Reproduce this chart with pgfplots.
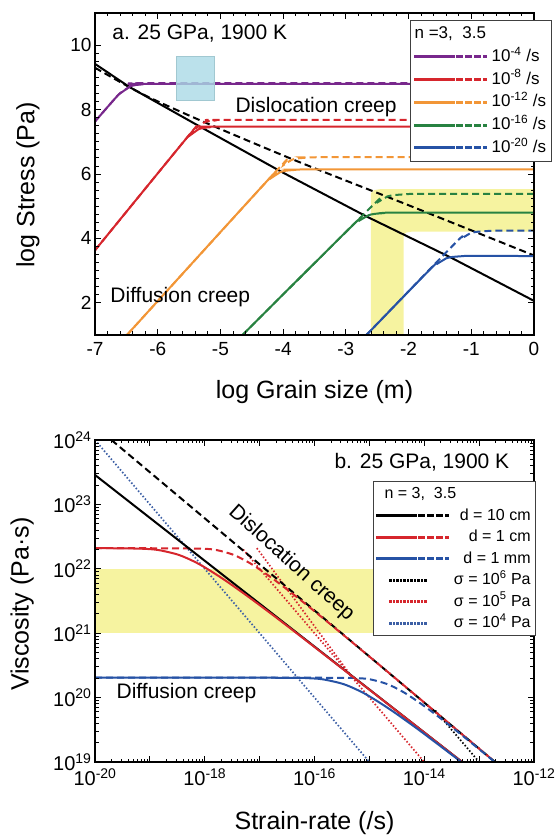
\documentclass[border=0pt]{standalone}
\usepackage{pgfplots}
\pgfplotsset{compat=1.18}
\usepackage{fontspec}
\setmainfont{Liberation Sans}
\definecolor{cpurple}{RGB}{120,40,140}
\definecolor{cred}{RGB}{214,38,45}
\definecolor{corange}{RGB}{242,150,55}
\definecolor{cgreen}{RGB}{40,130,65}
\definecolor{cblue}{RGB}{38,82,165}
\definecolor{cdotblue}{RGB}{60,95,165}
\definecolor{cyel}{RGB}{246,243,160}
\definecolor{ccyan}{RGB}{170,218,230}
\def\mxl{-30}
\foreach \n in {-20,...,-13}{\foreach \k in {0.30103,0.47712,0.60206,0.69897,0.77815,0.8451,0.90309,0.95424}{\pgfmathparse{\n+\k}\xdef\mxl{\mxl,\pgfmathresult}}}
\def\myl{10}
\foreach \n in {19,...,23}{\foreach \k in {0.30103,0.47712,0.60206,0.69897,0.77815,0.8451,0.90309,0.95424}{\pgfmathparse{\n+\k}\xdef\myl{\myl,\pgfmathresult}}}
\pgfplotsset{
  common/.style={scale only axis, width=439pt, height=322pt,
    tick align=inside, xtick pos=both, ytick pos=both,
    major tick length=6pt, minor tick length=3.5pt,
    every tick/.style={black, line width=0.8pt},
    axis line style={line width=1.1pt},
    axis on top, clip=true,
    label style={font=\fontsize{25}{25}\selectfont},
  },
  sol/.style={line width=2pt},
  das/.style={line width=2pt, dash pattern=on 7pt off 4pt},
  dot/.style={line width=1.7pt, dash pattern=on 1.5pt off 2pt},
}
\newcommand{\ann}{\fontsize{21}{25}\selectfont}
% legend samples drawn as filled bars (solid part, then dashes)
\newcommand{\sdimg}[1]{\addlegendimage{legend image code/.code={%
  \fill[#1] (0pt,-1pt) rectangle (40pt,1pt);
  \fill[#1] (42pt,-1pt) rectangle (48pt,1pt);
  \fill[#1] (51pt,-1pt) rectangle (57pt,1pt);
  \fill[#1] (60pt,-1pt) rectangle (66pt,1pt);
  \fill[#1] (69pt,-1pt) rectangle (72pt,1pt);}}}
\newcommand{\dotimg}[1]{\addlegendimage{legend image code/.code={%
  \foreach \a in {13,16.5,20,23.5,27,30.5,34,37.5,41,44.5,48}{\fill[#1] (\a pt,-1pt) rectangle ++(1.7pt,2pt);}}}}
\begin{document}
\begin{tikzpicture}
\useasboundingbox (0,0) rectangle (557pt,837pt);
% ---------------- top panel ----------------
\begin{axis}[common, at={(95pt,502pt)}, anchor=south west,
  xmin=-7, xmax=0, ymin=1, ymax=11,
  xtick={-7,-6,-5,-4,-3,-2,-1,0}, xticklabels={-7,-6,-5,-4,-3,-2,-1,0},
  ytick={2,4,6,8,10}, yticklabels={2,4,6,8,10},
  minor x tick num=4, minor y tick num=7,
  tick label style={font=\fontsize{19}{19}\selectfont},
  xticklabel style={yshift=-4pt},
  xlabel={log Grain size (m)}, ylabel={log Stress (Pa)},
  xlabel style={at={(axis description cs:0.5,-0.177)}, anchor=center},
  ylabel style={at={(axis description cs:-0.153,0.466)}, anchor=center},
  legend style={at={(axis description cs:1.040,0.978)}, anchor=north east,
    draw=black!75, line width=0.8pt, fill=white, inner xsep=3pt, inner ysep=2pt,
    /tikz/row sep=0.3pt, /tikz/column sep=3pt,
    font=\fontsize{17}{17}\selectfont,
    nodes={inner sep=2pt, text height=14pt, text depth=4.5pt}},
  legend cell align=left,
]
\addplot[fill=cyel, draw=none, forget plot] coordinates {(-2.60,1) (-2.60,5.40) (-2.55,5.50) (-2.45,5.53) (0,5.53) (0,4.21) (-1.95,4.21) (-2.04,4.18) (-2.08,4.10) (-2.08,1)} -- cycle;
% black boundaries
\addplot[black, sol, forget plot] coordinates {(-7,9.42) (-6.45,8.70) (-5.27,7.41) (-4.02,6.06) (-2.68,4.69) (-1.31,3.39) (0,2.06)};
\addplot[black, das, smooth, forget plot] coordinates {(-7,9.30) (-6.23,8.47) (-5.28,7.63) (-3.73,6.36) (-2.0,5.03) (0,3.47)};
% dashed n=3.5
\addplot[cpurple, das, smooth, tension=0.5, forget plot] coordinates {(-7,7.63) (-6.646,8.42) (-6.555,8.57) (-6.481,8.67) (-6.429,8.74) (-6.35,8.78) (-6.22,8.805) (-6.046,8.82) (0,8.82)};
\addplot[cred, das, smooth, tension=0.5, forget plot] coordinates {(-7,3.63) (-5.47,7.28) (-5.384,7.43) (-5.3125,7.53) (-5.2625,7.60) (-5.1875,7.64) (-5.0625,7.665) (-4.896,7.68) (0,7.68)};
\addplot[corange, das, smooth, tension=0.5, forget plot] coordinates {(-6.491,1.0) (-4.097,6.12) (-3.999,6.27) (-3.92,6.37) (-3.864,6.44) (-3.78,6.48) (-3.641,6.505) (-3.455,6.52) (0,6.52)};
\addplot[cgreen, das, smooth, tension=0.5, forget plot] coordinates {(-4.649,1.0) (-2.595,4.98) (-2.487,5.13) (-2.40,5.23) (-2.338,5.30) (-2.246,5.34) (-2.092,5.365) (-1.887,5.38) (0,5.38)};
\addplot[cblue, das, smooth, tension=0.5, forget plot] coordinates {(-2.672,1.0) (-1.263,3.84) (-1.160,3.99) (-1.076,4.09) (-1.017,4.16) (-0.928,4.20) (-0.780,4.225) (-0.583,4.24) (0,4.24)};
% solid n=3
\addplot[cpurple, sol, smooth, tension=0.5, forget plot] coordinates {(-7,7.63) (-6.655,8.40) (-6.564,8.55) (-6.49,8.65) (-6.438,8.72) (-6.36,8.76) (-6.229,8.785) (-6.055,8.80) (0,8.80)};
\addplot[cred, sol, smooth, tension=0.5, forget plot] coordinates {(-7,3.63) (-5.558,7.07) (-5.471,7.22) (-5.40,7.32) (-5.35,7.39) (-5.275,7.43) (-5.15,7.455) (-4.983,7.47) (0,7.47)};
\addplot[corange, sol, smooth, tension=0.5, forget plot] coordinates {(-6.491,1.0) (-4.277,5.74) (-4.179,5.89) (-4.10,5.99) (-4.044,6.06) (-3.96,6.10) (-3.821,6.125) (-3.635,6.14) (0,6.14)};
\addplot[cgreen, sol, smooth, tension=0.5, forget plot] coordinates {(-4.649,1.0) (-2.895,4.40) (-2.787,4.55) (-2.70,4.65) (-2.638,4.72) (-2.546,4.76) (-2.392,4.785) (-2.187,4.80) (0,4.80)};
\addplot[cblue, sol, smooth, tension=0.5, forget plot] coordinates {(-2.672,1.0) (-1.647,3.06) (-1.544,3.21) (-1.46,3.31) (-1.401,3.38) (-1.312,3.42) (-1.164,3.445) (-0.967,3.46) (0,3.45)};
% cyan box
\addplot[fill=ccyan, fill opacity=0.8, draw=ccyan!80!gray, line width=0.4pt, forget plot] coordinates {(-5.70,8.29) (-5.10,8.29) (-5.10,9.66) (-5.70,9.66)} -- cycle;
\node[anchor=west, font=\ann] at (axis cs:-6.78,10.37) {a. 25 GPa, 1900 K};
\node[anchor=west, font=\ann] at (axis cs:-4.815,8.08) {Dislocation creep};
\node[anchor=west, font=\ann] at (axis cs:-6.81,2.17) {Diffusion creep};
% legend
\addlegendimage{empty legend}
\addlegendentry{\makebox[0pt][l]{\hspace*{-77pt}n =3,\ \ 3.5}}
\sdimg{cpurple}
\addlegendentry{10\textsuperscript{-4} /s}
\sdimg{cred}
\addlegendentry{10\textsuperscript{-8} /s}
\sdimg{corange}
\addlegendentry{10\textsuperscript{-12} /s}
\sdimg{cgreen}
\addlegendentry{10\textsuperscript{-16} /s}
\sdimg{cblue}
\addlegendentry{10\textsuperscript{-20} /s}
\end{axis}
% ---------------- bottom panel ----------------
\begin{axis}[common, at={(95pt,75pt)}, anchor=south west,
  xmin=-20, xmax=-12, ymin=19, ymax=24,
  xtick={-20,-19,-18,-17,-16,-15,-14,-13,-12},
  xticklabels={10\textsuperscript{-20},,10\textsuperscript{-18},,10\textsuperscript{-16},,10\textsuperscript{-14},,10\textsuperscript{-12}},
  ytick={19,20,21,22,23,24},
  yticklabels={10\textsuperscript{19},10\textsuperscript{20},10\textsuperscript{21},10\textsuperscript{22},10\textsuperscript{23},10\textsuperscript{24}},
  minor xtick/.expand once=\mxl, minor ytick/.expand once=\myl,
  tick label style={font=\fontsize{20}{20}\selectfont},
  xticklabel style={yshift=-3pt},
  xlabel={Strain-rate (/s)}, ylabel={Viscosity (Pa·s)},
  xlabel style={at={(axis description cs:0.5,-0.189)}, anchor=center},
  ylabel style={at={(axis description cs:-0.166,0.49)}, anchor=center},
  legend style={at={(axis description cs:1.0046,0.872)}, anchor=north east,
    draw=black!75, line width=0.8pt, fill=white, inner xsep=3pt, inner ysep=2pt,
    /tikz/row sep=0.5pt, /tikz/column sep=3pt,
    font=\fontsize{16}{16}\selectfont,
    nodes={inner sep=2pt, text height=13pt, text depth=4pt}},
  legend cell align=right,
]
\addplot[fill=cyel, draw=none, forget plot] coordinates {(-20,21) (-12,21) (-12,22) (-20,22)} -- cycle;
% dotted constant stress
\addplot[black, dot, forget plot] coordinates {(-13.80,19.80) (-13.0,19.0)};
\addplot[cred, dot, forget plot] coordinates {(-17.30,22.30) (-14.0,19.0)};
\addplot[cred, dot, forget plot] coordinates {(-17.05,22.32) (-15.30,20.30)};
\addplot[cdotblue, dot, forget plot] coordinates {(-20,24) (-15,19)};
% dashed n=3.5
\addplot[black, das, forget plot] coordinates {(-19.70,24.0) (-12.71,19.0)};
\addplot[cred, das, smooth, tension=0.5, forget plot] coordinates {(-20,22.32) (-18.5,22.318) (-17.992,22.31) (-17.778,22.29) (-17.485,22.22) (-17.244,22.12) (-17.051,22.02) (-16.717,21.82) (-16.261,21.52) (-15.683,21.12) (-14.554,20.32) (-12.71,19.0)};
\addplot[cblue, das, smooth, tension=0.5, forget plot] coordinates {(-20,20.31) (-15.7,20.308) (-15.182,20.30) (-14.967,20.28) (-14.674,20.21) (-14.432,20.11) (-14.240,20.01) (-13.906,19.81) (-13.450,19.51) (-12.872,19.11) (-12.716,19.0)};
% solid n=3
\addplot[black, sol, forget plot] coordinates {(-20,23.457) (-13.31,19.0)};
\addplot[cred, sol, smooth, tension=0.5, forget plot] coordinates {(-20,22.32) (-19.5,22.318) (-19.101,22.31) (-18.837,22.29) (-18.488,22.22) (-18.211,22.12) (-17.995,22.02) (-17.627,21.82) (-17.132,21.52) (-16.508,21.12) (-15.297,20.32) (-13.31,19.0)};
\addplot[cblue, sol, smooth, tension=0.5, forget plot] coordinates {(-20,20.31) (-16.6,20.308) (-16.086,20.30) (-15.822,20.28) (-15.473,20.21) (-15.196,20.11) (-14.98,20.01) (-14.612,19.81) (-14.117,19.51) (-13.494,19.11) (-13.325,19.0)};
\node[anchor=east, font=\ann] at (axis cs:-12.386,23.66) {b. 25 GPa, 1900 K};
\node[anchor=west, font=\ann] at (axis cs:-19.67,20.07) {Diffusion creep};
\node[rotate=-42, font=\ann] at (axis cs:-16.42,22.085) {Dislocation creep};
% legend
\addlegendimage{empty legend}
\addlegendentry{\makebox[0pt][l]{\hspace*{-146pt}n = 3,\ \ 3.5}}
\sdimg{black}
\addlegendentry{d = 10 cm}
\sdimg{cred}
\addlegendentry{d = 1 cm}
\sdimg{cblue}
\addlegendentry{d = 1 mm}
\dotimg{black}
\addlegendentry{σ = 10\textsuperscript{6} Pa}
\dotimg{cred}
\addlegendentry{σ = 10\textsuperscript{5} Pa}
\dotimg{cdotblue}
\addlegendentry{σ = 10\textsuperscript{4} Pa}
\end{axis}
\end{tikzpicture}
\end{document}
